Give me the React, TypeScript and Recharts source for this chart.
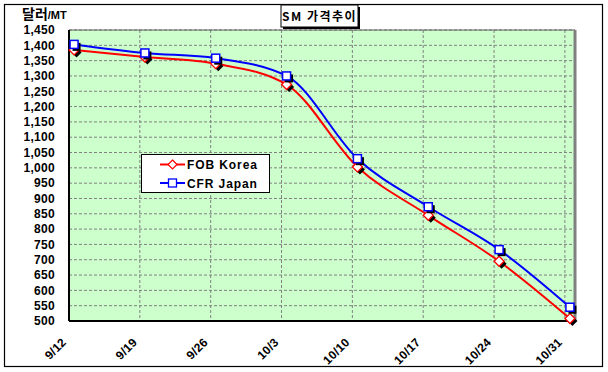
import React from 'react';
import { LineChart, Line, XAxis, YAxis, CartesianGrid, Legend, ReferenceLine } from 'recharts';

const dateLabels = ['9/12', '9/19', '9/26', '10/3', '10/10', '10/17', '10/24', '10/31'];
const dayOffsets = [0, 7, 14, 21, 28, 35, 42, 49];
const fobKorea = [1385, 1362, 1340, 1272, 1003, 845, 695, 508];
const cfrJapan = [1403, 1375, 1358, 1300, 1030, 873, 733, 545];
const yTicks = [500, 550, 600, 650, 700, 750, 800, 850, 900, 950, 1000, 1050, 1100, 1150, 1200, 1250, 1300, 1350, 1400, 1450];
const seriesNames = ['FOB Korea', 'CFR Japan'];
const title = 'SM 가격추이';
const unitMain = '달러';
const unitSub = '/MT';

// points sit in the middle of each day interval (Excel date axis "between tick marks")
const data = dayOffsets.map((d, i) => ({ day: d + 0.5, fob: fobKorea[i], cfr: cfrJapan[i] }));

const NUM_FONT = '"Liberation Sans", Arial, sans-serif';
const KR_FONT = '"Noto Sans CJK KR", "Noto Sans", sans-serif';

const Diamond = ({ cx, cy, shadow }: any) => {
  const r = 5;
  const dx = shadow ? 2.5 : 0;
  const dy = shadow ? 2.5 : 0;
  const p = `M${cx + dx},${cy + dy - r} L${cx + dx + r},${cy + dy} L${cx + dx},${cy + dy + r} L${cx + dx - r},${cy + dy} Z`;
  return shadow ? <path d={p} fill="#000" /> : <path d={p} fill="#fff" stroke="#FF0000" strokeWidth={1.3} />;
};

const Square = ({ cx, cy, shadow }: any) => {
  const s = 4;
  const dx = shadow ? 2.5 : 0;
  const dy = shadow ? 2.5 : 0;
  return shadow ? (
    <rect x={cx - s + dx} y={cy - s + dy} width={2 * s} height={2 * s} fill="#000" />
  ) : (
    <rect x={cx - s} y={cy - s} width={2 * s} height={2 * s} fill="#fff" stroke="#0000FF" strokeWidth={1.5} />
  );
};

const FobDot = (props: any) => {
  const { cx, cy, index } = props;
  if (cx == null || cy == null) return <g key={`f${index}`} />;
  return (
    <g key={`f${index}`}>
      <Diamond cx={cx} cy={cy} shadow />
      <Diamond cx={cx} cy={cy} />
    </g>
  );
};

const CfrDot = (props: any) => {
  const { cx, cy, index } = props;
  if (cx == null || cy == null) return <g key={`c${index}`} />;
  return (
    <g key={`c${index}`}>
      <Square cx={cx} cy={cy} shadow />
      <Square cx={cx} cy={cy} />
    </g>
  );
};

const XTick = (props: any) => {
  const { x, y, payload } = props;
  const idx = dayOffsets.indexOf(payload.value);
  const label = idx >= 0 ? dateLabels[idx] : '';
  const ax = x - 2;
  const ay = y + 22;
  return (
    <text
      x={ax}
      y={ay}
      transform={`rotate(-45, ${ax}, ${ay})`}
      textAnchor="end"
      fontFamily={NUM_FONT}
      fontWeight="bold"
      fontSize={12}
      letterSpacing={0.3}
      fill="#000"
    >
      {label}
    </text>
  );
};

const LegendBox = () => (
  <svg width={129} height={39} style={{ display: 'block' }}>
    <rect x={0.5} y={0.5} width={128} height={38} fill="#fff" stroke="#000" strokeWidth={1} />
    <line x1={19} y1={10.5} x2={44} y2={10.5} stroke="#FF0000" strokeWidth={2} />
    <path d="M31.5,6 L36,10.5 L31.5,15 L27,10.5 Z" fill="#fff" stroke="#FF0000" strokeWidth={1.2} />
    <text x={46} y={15} fontFamily={NUM_FONT} fontWeight="bold" fontSize={12} letterSpacing={0.9} fill="#000">
      {seriesNames[0]}
    </text>
    <line x1={19} y1={29} x2={44} y2={29} stroke="#0000FF" strokeWidth={2} />
    <rect x={27.5} y={25} width={8} height={8} fill="#fff" stroke="#0000FF" strokeWidth={1.3} />
    <text x={46} y={33.5} fontFamily={NUM_FONT} fontWeight="bold" fontSize={12} letterSpacing={0.9} fill="#000">
      {seriesNames[1]}
    </text>
  </svg>
);

export default function App() {
  return (
    <div style={{ position: 'absolute', left: 0, top: 0, width: 608, height: 372, background: '#fff' }}>
      <LineChart
        width={608}
        height={372}
        data={data}
        margin={{ top: 30, right: 33, bottom: 0, left: 0 }}
      >
        <CartesianGrid
          stroke="#808080"
          strokeDasharray="3 2"
          fill="#CCFFCC"
          fillOpacity={1}
        />
        <XAxis
          dataKey="day"
          type="number"
          domain={[0, 50]}
          ticks={dayOffsets}
          interval={0}
          height={51}
          tickSize={0}
          tickMargin={0}
          tickLine={false}
          axisLine={{ stroke: '#000', strokeWidth: 2 }}
          tick={<XTick />}
        />
        <YAxis
          type="number"
          domain={[500, 1450]}
          ticks={yTicks}
          interval={0}
          width={69}
          tickLine={false}
          tickSize={0}
          tickMargin={14}
          axisLine={{ stroke: '#000', strokeWidth: 2 }}
          tickFormatter={(v: number) => v.toLocaleString('en-US')}
          tick={{ fontFamily: NUM_FONT, fontWeight: 'bold', fontSize: 12, fill: '#000', letterSpacing: 0.3 }}
        />
        <ReferenceLine y={1450} stroke="#606060" strokeWidth={1} />
        <ReferenceLine x={50} stroke="#808080" strokeWidth={3} />
        <Line
          type="monotone"
          dataKey="fob"
          name={seriesNames[0]}
          stroke="#FF0000"
          strokeWidth={2}
          dot={FobDot}
          activeDot={false}
          isAnimationActive={false}
        />
        <Line
          type="monotone"
          dataKey="cfr"
          name={seriesNames[1]}
          stroke="#0000FF"
          strokeWidth={2}
          dot={CfrDot}
          activeDot={false}
          isAnimationActive={false}
        />
        <Legend
          layout="vertical"
          align="center"
          verticalAlign="middle"
          content={<LegendBox />}
          wrapperStyle={{ position: 'absolute', left: 141, top: 154, width: 129, height: 39 }}
        />
      </LineChart>
      <svg
        width={608}
        height={372}
        style={{ position: 'absolute', left: 0, top: 0, pointerEvents: 'none' }}
      >
        <rect x={4.5} y={4.5} width={598} height={362} fill="none" stroke="#000" strokeWidth={1.2} />
        <rect x={283} y={7} width={77} height={22} fill="#000" />
        <rect x={281} y={5} width={77} height={22} fill="#fff" stroke="#000" strokeWidth={1} />
        <text x={319.5} y={20.5} textAnchor="middle" fontFamily={KR_FONT} fontWeight="bold" fontSize={12} letterSpacing={1.5} fill="#000">
          {title}
        </text>
        <text x={22} y={19} fontFamily={KR_FONT} fontWeight="bold" fill="#000">
          <tspan fontSize={14}>{unitMain}</tspan>
          <tspan fontSize={11} fontFamily={NUM_FONT}>{unitSub}</tspan>
        </text>
      </svg>
    </div>
  );
}
